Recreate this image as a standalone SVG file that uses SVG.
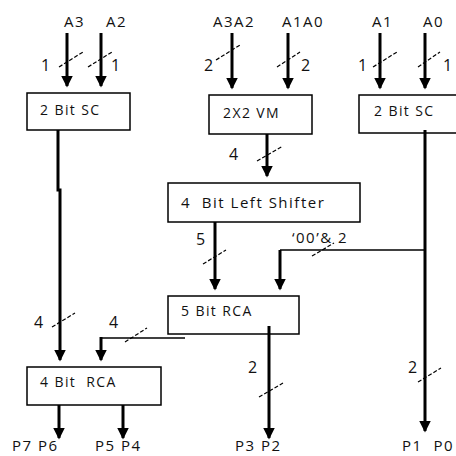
<svg xmlns="http://www.w3.org/2000/svg" width="456" height="456" viewBox="0 0 456 456">
<style>
.box{fill:#fff;stroke:#000;stroke-width:1.5}
.bt{font-family:"Open Sans","Noto Sans","Liberation Sans",sans-serif;font-size:14px;letter-spacing:1.4px;fill:#111;white-space:pre}
.lb{font-family:"Open Sans","Noto Sans","Liberation Sans",sans-serif;font-size:15px;letter-spacing:1.5px;fill:#111;white-space:pre}
.n{font-family:"Open Sans","Noto Sans","Liberation Sans",sans-serif;font-size:16px;fill:#111}
.w{stroke:#000;stroke-width:3;fill:none}
.t{stroke:#000;stroke-width:1.5;fill:none}
.s{stroke:#000;stroke-width:1.2;stroke-dasharray:4 2;fill:none}
</style>
<defs>
<marker id="ah" markerWidth="4" markerHeight="4" refX="3.5" refY="2" orient="auto" markerUnits="strokeWidth">
<path d="M0,0 L4,2 L0,4 Z" fill="#000"/>
</marker>
</defs>
<rect width="456" height="456" fill="#fff"/>
<g id="sc1"><rect class="box" x="27" y="93" width="103" height="37"/><text class="bt" x="40" y="115">2 Bit SC</text></g>
<g id="vm"><rect class="box" x="209" y="95" width="103" height="39"/><text class="bt" x="223" y="118">2X2 VM</text></g>
<g id="sc2"><rect class="box" x="359" y="95" width="110" height="38"/><text class="bt" x="374" y="116">2 Bit SC</text></g>
<g id="shifter"><rect class="box" x="168" y="183" width="192" height="39"/><text class="lb" x="181" y="208" letter-spacing="1.2">4  Bit Left Shifter</text></g>
<g id="rca5"><rect class="box" x="168" y="296" width="131" height="38"/><text class="bt" x="181" y="316">5 Bit RCA</text></g>
<g id="rca4"><rect class="box" x="27" y="367" width="134" height="38"/><text class="bt" x="40" y="387">4 Bit  RCA</text></g>
<g id="connectors">
<line class="w" x1="67" y1="33" x2="67" y2="86" marker-end="url(#ah)"/>
<line class="w" x1="101" y1="33" x2="101" y2="86" marker-end="url(#ah)"/>
<line class="w" x1="232" y1="33" x2="232" y2="88" marker-end="url(#ah)"/>
<line class="w" x1="288" y1="33" x2="288" y2="88" marker-end="url(#ah)"/>
<line class="w" x1="380" y1="33" x2="380" y2="88" marker-end="url(#ah)"/>
<line class="w" x1="425" y1="33" x2="425" y2="88" marker-end="url(#ah)"/>
<line class="w" x1="267" y1="134" x2="267" y2="176" marker-end="url(#ah)"/>
<polyline class="w" points="58,130 58,190 60,190 60,360" marker-end="url(#ah)"/>
<line class="w" x1="215" y1="222" x2="215" y2="289" marker-end="url(#ah)"/>
<polyline class="t" points="425,250 280,250"/>
<line class="w" x1="280" y1="250" x2="280" y2="289" marker-end="url(#ah)"/>
<line class="w" x1="425" y1="130" x2="425" y2="431" marker-end="url(#ah)"/>
<polyline class="t" points="185,338 101,338"/>
<line class="w" x1="101" y1="337" x2="101" y2="360" marker-end="url(#ah)"/>
<line class="w" x1="269" y1="326" x2="269" y2="438" marker-end="url(#ah)"/>
<line class="w" x1="59" y1="405" x2="59" y2="438" marker-end="url(#ah)"/>
<line class="w" x1="123" y1="405" x2="123" y2="438" marker-end="url(#ah)"/>
<line class="s" x1="59" y1="67" x2="83" y2="52"/>
<line class="s" x1="88" y1="67" x2="112" y2="52"/>
<line class="s" x1="216" y1="60" x2="240" y2="45"/>
<line class="s" x1="277" y1="67" x2="300" y2="52"/>
<line class="s" x1="373" y1="67" x2="397" y2="52"/>
<line class="s" x1="418" y1="67" x2="440" y2="52"/>
<line class="s" x1="257" y1="161" x2="283" y2="146"/>
<line class="s" x1="203" y1="264" x2="226" y2="250"/>
<line class="s" x1="312" y1="256" x2="334" y2="243"/>
<line class="s" x1="52" y1="327" x2="75" y2="313"/>
<line class="s" x1="125" y1="342" x2="147" y2="328"/>
<line class="s" x1="259" y1="397" x2="283" y2="383"/>
<line class="s" x1="418" y1="382" x2="441" y2="368"/>
</g>
<g id="labels">
<text class="lb" x="64" y="27">A3</text>
<text class="lb" x="106" y="27">A2</text>
<text class="lb" x="213" y="27">A3A2</text>
<text class="lb" x="282" y="27">A1A0</text>
<text class="lb" x="372" y="27">A1</text>
<text class="lb" x="423" y="27">A0</text>
<text class="n" x="41" y="71">1</text>
<text class="n" x="111" y="71">1</text>
<text class="n" x="204" y="71">2</text>
<text class="n" x="301" y="71">2</text>
<text class="n" x="358" y="71">1</text>
<text class="n" x="443" y="71">1</text>
<text class="n" x="229" y="160">4</text>
<text class="n" x="196" y="245">5</text>
<text class="lb" x="292" y="243" letter-spacing="0.5">‘00’&amp; 2</text>
<text class="n" x="34" y="328">4</text>
<text class="n" x="109" y="328">4</text>
<text class="n" x="248" y="373">2</text>
<text class="n" x="408" y="373">2</text>
<text class="lb" x="12" y="451">P7 P6</text>
<text class="lb" x="95" y="451">P5 P4</text>
<text class="lb" x="235" y="451">P3 P2</text>
<text class="lb" x="402" y="451" letter-spacing="0.8">P1  P0</text>
</g>
</svg>
